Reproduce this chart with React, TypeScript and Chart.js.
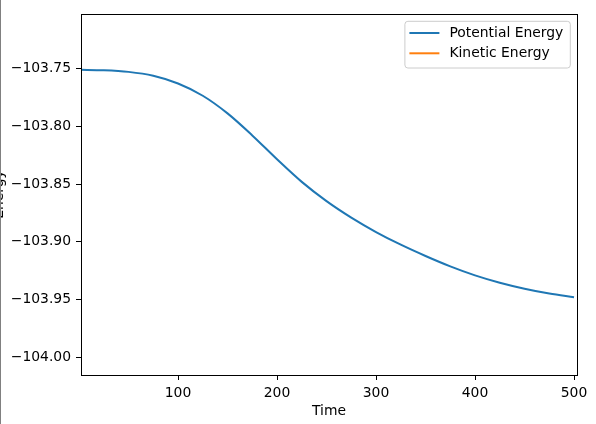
import { useEffect, useRef } from "react";
import { Chart, registerables } from "chart.js";

Chart.register(...registerables);

// ---- data ----
const timeSteps = [0, 25, 50, 75, 100, 125, 150, 175, 200, 225, 250, 275, 300, 325, 350, 375, 400, 425, 450, 475, 500];
const potentialEnergy = [
  -103.7509, -103.7513, -103.7527, -103.7561, -103.7628, -103.7734, -103.7887, -103.8078,
  -103.8285, -103.8481, -103.8648, -103.8791, -103.8916, -103.9026, -103.9124, -103.9214,
  -103.9292, -103.9356, -103.9408, -103.945, -103.9482,
];
// Kinetic energy lies outside the visible energy window (only its legend entry shows)
const kineticEnergy: number[] = [];
const xTicks = [100, 200, 300, 400, 500];
const yTicks = [-104.0, -103.95, -103.9, -103.85, -103.8, -103.75];
const xRange = [2, 503];
const yRange = [-104.0156, -103.7025];
const seriesLabels = ["Potential Energy", "Kinetic Energy"];
const seriesColors = ["#1f77b4", "#ff7f0e"];

const FONT_FAMILY = "'DejaVu Sans', 'Liberation Sans', sans-serif";
const FONT_SIZE = 13.9;

const framePlugin = {
  id: "mplFrame",
  afterDatasetsDraw(chart: any) {
    const { ctx, chartArea } = chart;
    ctx.save();
    ctx.strokeStyle = "#000";
    ctx.lineWidth = 1;
    const l = Math.round(chartArea.left) + 0.5;
    const t = Math.round(chartArea.top) + 0.5;
    const r = Math.round(chartArea.right) + 0.5;
    const b = Math.round(chartArea.bottom) + 0.5;
    ctx.strokeRect(l, t, r - l, b - t);
    ctx.restore();
  },
};

const legendPlugin = {
  id: "mplLegend",
  afterDraw(chart: any) {
    const { ctx, chartArea } = chart;
    const items = chart.data.datasets.map((d: any) => ({ label: d.label, color: d.borderColor }));
    ctx.save();
    ctx.font = `${FONT_SIZE}px ${FONT_FAMILY}`;
    const textW = Math.max(...items.map((i: any) => ctx.measureText(i.label).width));
    const padL = 4.5, handle = 30, gap = 10, padR = 7, rowH = 20.3, padT = 11.7, padB = 14.7;
    const w = padL + handle + gap + textW + padR;
    const h = padT + rowH * (items.length - 1) + padB;
    const x0 = chartArea.right - 6.7 - w;
    const y0 = chartArea.top + 7.3;
    ctx.beginPath();
    if (ctx.roundRect) ctx.roundRect(x0, y0, w, h, 3);
    else ctx.rect(x0, y0, w, h);
    ctx.fillStyle = "rgba(255,255,255,0.8)";
    ctx.fill();
    ctx.strokeStyle = "#cccccc";
    ctx.lineWidth = 1;
    ctx.stroke();
    items.forEach((it: any, i: number) => {
      const y = y0 + padT + i * rowH;
      ctx.beginPath();
      ctx.moveTo(x0 + padL, y);
      ctx.lineTo(x0 + padL + handle, y);
      ctx.strokeStyle = it.color;
      ctx.lineWidth = 2;
      ctx.stroke();
      ctx.fillStyle = "#000";
      ctx.textBaseline = "middle";
      ctx.textAlign = "left";
      ctx.fillText(it.label, x0 + padL + handle + gap, y + 0.5);
    });
    ctx.restore();
  },
};

export default function App() {
  const canvasRef = useRef<HTMLCanvasElement | null>(null);

  useEffect(() => {
    if (!canvasRef.current) return;
    const font = { family: FONT_FAMILY, size: FONT_SIZE };
    const chart = new Chart(canvasRef.current, {
      type: "line",
      data: {
        datasets: [
          {
            label: seriesLabels[0],
            data: timeSteps.map((t, i) => ({ x: t, y: potentialEnergy[i] })),
            borderColor: seriesColors[0],
            backgroundColor: seriesColors[0],
            borderWidth: 2,
            pointRadius: 0,
            cubicInterpolationMode: "monotone",
          },
          {
            label: seriesLabels[1],
            data: kineticEnergy.map((e, i) => ({ x: timeSteps[i], y: e })),
            borderColor: seriesColors[1],
            backgroundColor: seriesColors[1],
            borderWidth: 2,
            pointRadius: 0,
          },
        ],
      },
      options: {
        animation: false,
        responsive: true,
        maintainAspectRatio: false,
        layout: { padding: { left: 0, top: 14, right: 19, bottom: 0 } },
        plugins: { legend: { display: false }, tooltip: { enabled: false } },
        scales: {
          x: {
            type: "linear",
            min: xRange[0],
            max: xRange[1],
            afterBuildTicks: (scale: any) => {
              scale.ticks = xTicks.map((v) => ({ value: v }));
            },
            afterFit: (scale: any) => {
              scale.height = 49;
            },
            ticks: {
              color: "#000",
              font,
              padding: 5,
              maxRotation: 0,
              callback: (v: any) => String(v),
            },
            grid: { drawOnChartArea: false, drawTicks: true, tickLength: 5, color: "#000" },
            border: { display: false },
            title: { display: true, text: "Time", color: "#000", font, padding: { top: 0, bottom: 4 } },
          },
          y: {
            type: "linear",
            min: yRange[0],
            max: yRange[1],
            afterBuildTicks: (scale: any) => {
              scale.ticks = yTicks.map((v) => ({ value: v }));
            },
            afterFit: (scale: any) => {
              scale.width = 81;
            },
            ticks: {
              color: "#000",
              font,
              padding: 5,
              callback: (v: any) => "\u2212" + Math.abs(Number(v)).toFixed(2),
            },
            grid: { drawOnChartArea: false, drawTicks: true, tickLength: 5, color: "#000" },
            border: { display: false },
            title: { display: true, text: "Energy", color: "#000", font, padding: { top: -9, bottom: 0 } },
          },
        },
      },
      plugins: [framePlugin, legendPlugin],
    } as any);
    return () => chart.destroy();
  }, []);

  return (
    <div
      style={{
        position: "fixed",
        left: 0,
        top: 0,
        width: 596,
        height: 424,
        background: "#fff",
        overflow: "hidden",
      }}
    >
      <div style={{ position: "absolute", left: 0, top: 0, width: 596, height: 424 }}>
        <canvas ref={canvasRef} />
      </div>
      <div style={{ position: "absolute", left: 0, top: 0, width: 1, height: 424, background: "#808080" }} />
    </div>
  );
}
